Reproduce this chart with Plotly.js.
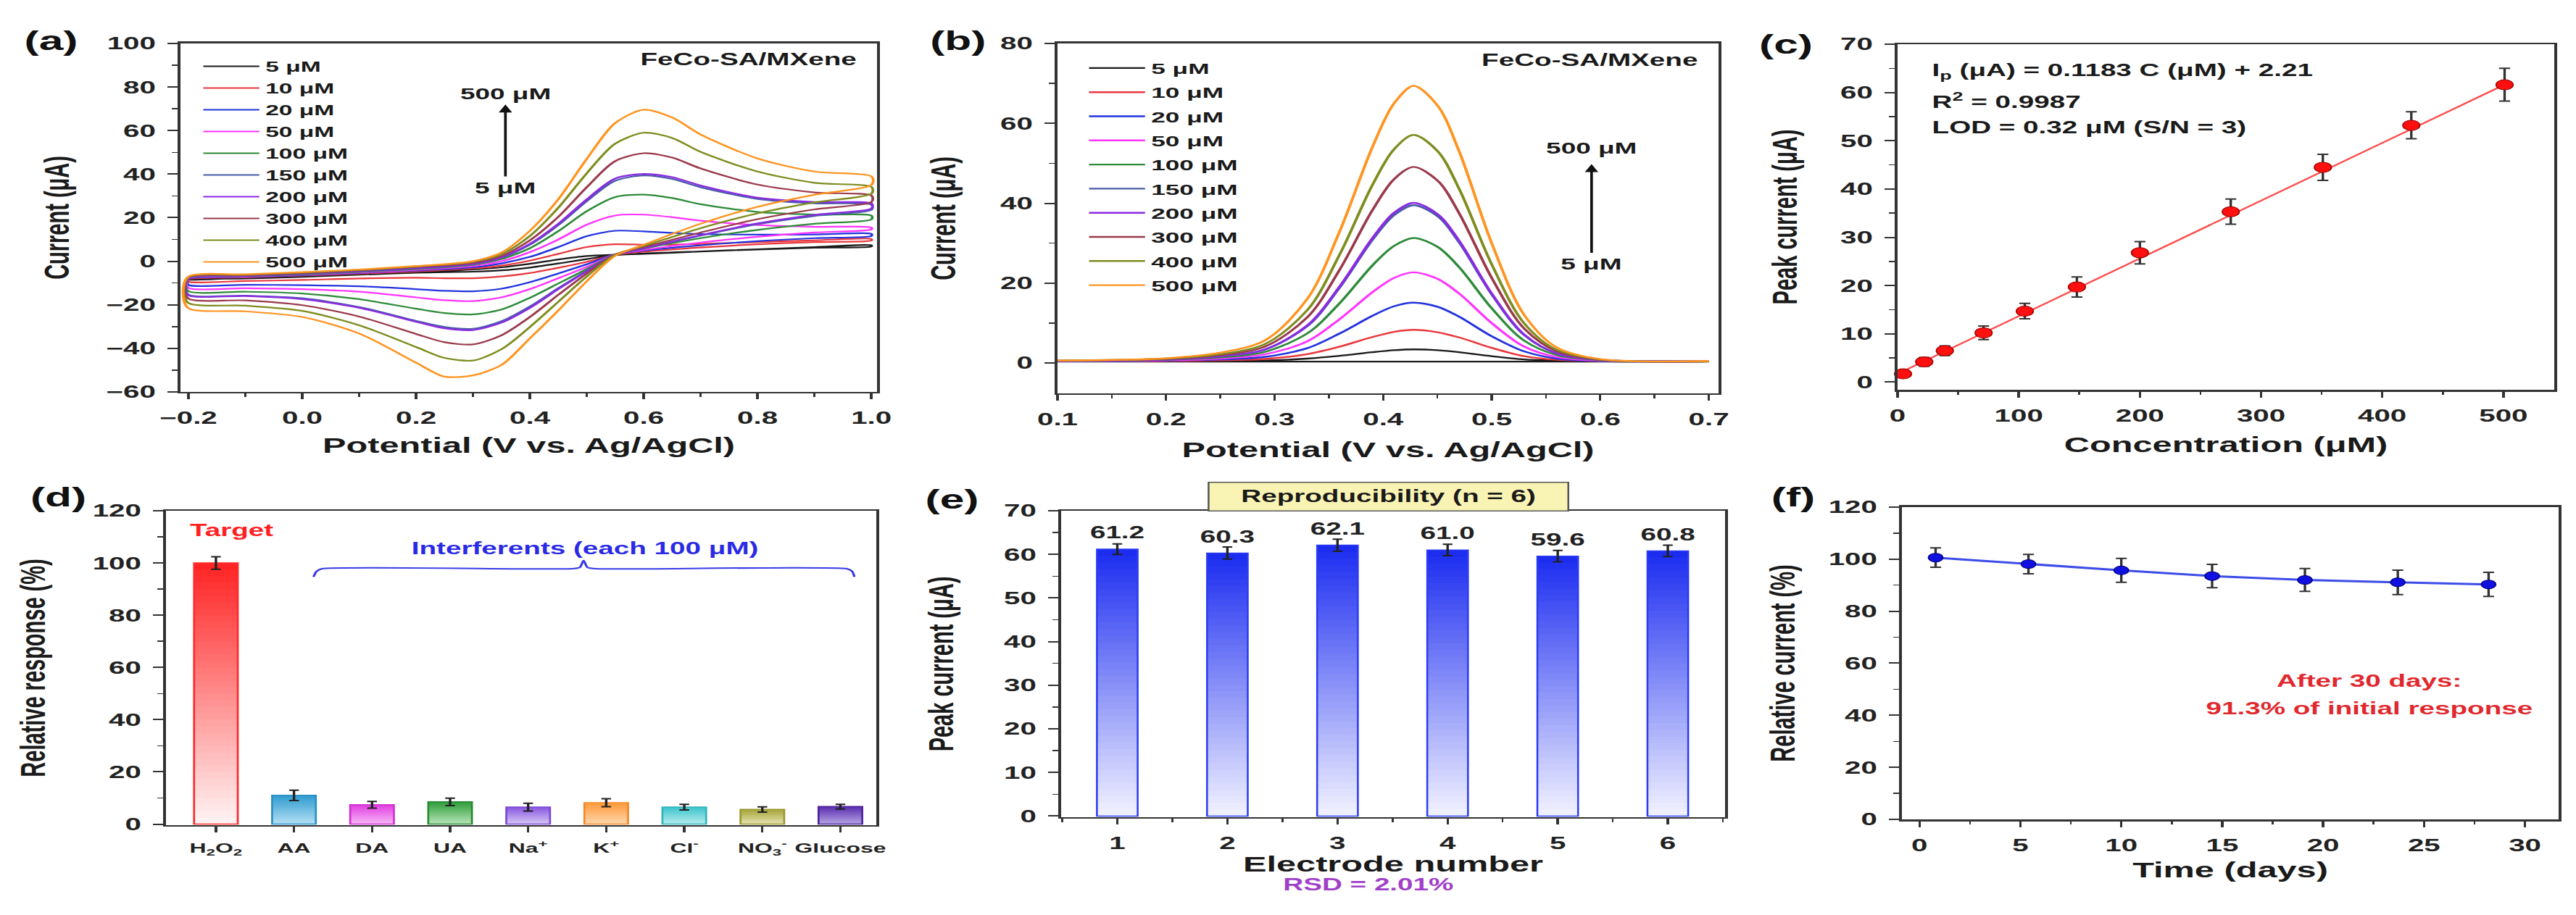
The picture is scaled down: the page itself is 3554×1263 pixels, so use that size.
<!DOCTYPE html>
<html><head><meta charset="utf-8">
<script src="https://cdn.plot.ly/plotly-3.0.1.min.js"></script>
<style>
html,body{margin:0;padding:0;background:#fff;overflow:hidden;}
#plot{width:2116px;height:1263px;transform:scaleX(1.6796);transform-origin:0 0;}
</style></head><body><div id="plot"></div>
<script>
const FONT = '"Liberation Sans", Arial, Helvetica, sans-serif';
const INK = '#1a1a1a';

// ---------------- (a) cyclic voltammograms ----------------
const cvPotentialFwd = [-0.2,-0.1,0.0,0.1,0.2,0.3,0.35,0.4,0.45,0.5,0.55,0.6,0.65,0.7,0.8,0.9,1.0];
const cvPotentialRev = [1.0,0.9,0.8,0.7,0.6,0.55,0.5,0.45,0.4,0.35,0.3,0.25,0.2,0.1,0.0,-0.1,-0.2];
const cvFwd5   = [-8.5,-7.6,-6.8,-6.0,-5.0,-3.8,-2.8,-1.2,0.8,2.4,3.0,3.4,3.9,4.5,5.5,6.5,7.3];
const cvRev5   = [6.8,6.2,5.4,4.5,3.6,2.8,1.0,-1.0,-2.9,-4.2,-4.8,-5.0,-5.3,-6.2,-7.2,-7.9,-8.4];
const cvFwd10  = [-8.3,-7.4,-6.6,-5.7,-4.7,-3.3,-2.0,0.3,3.4,6.5,7.8,7.6,7.6,8.0,8.8,9.6,10.2];
const cvRev10  = [9.5,8.8,7.8,6.3,4.4,3.0,-0.3,-3.0,-5.4,-7.0,-7.8,-7.8,-7.6,-7.9,-8.6,-9.1,-9.4];
const cvFwd20  = [-8.1,-7.2,-6.4,-5.4,-4.3,-2.8,-1.0,2.0,6.5,11.5,14.0,13.7,13.0,12.5,12.2,12.3,12.6];
const cvRev20  = [11.6,10.6,9.2,7.3,4.9,3.2,-1.4,-5.6,-9.6,-12.6,-13.8,-13.6,-12.8,-11.5,-11.0,-10.8,-10.9];
const cvFwd50  = [-8.0,-7.0,-6.2,-5.2,-4.0,-2.2,0.0,4.2,10.0,16.8,21.0,21.4,20.2,18.6,16.6,15.8,15.5];
const cvRev50  = [14.6,13.2,11.2,8.6,5.2,3.1,-2.6,-7.8,-12.8,-16.6,-18.3,-17.9,-16.6,-14.0,-12.8,-12.4,-12.3];
const cvFwd100 = [-7.8,-6.8,-6.0,-4.9,-3.6,-1.6,1.0,6.0,13.8,23.0,29.5,30.6,29.0,26.2,22.6,21.4,21.0];
const cvRev100 = [19.2,17.2,14.4,10.6,5.8,3.0,-3.6,-10.2,-16.8,-22.2,-24.4,-23.8,-21.8,-17.4,-14.8,-14.0,-13.8];
const cvFwd150 = [-7.7,-6.7,-5.8,-4.7,-3.3,-1.3,1.6,7.6,16.6,27.6,37.0,39.4,37.8,34.0,28.6,26.6,26.0];
const cvRev150 = [23.6,20.8,17.0,11.8,5.9,3.0,-4.4,-12.4,-20.8,-27.6,-31.0,-30.2,-27.4,-21.0,-17.0,-15.8,-15.4];
const cvFwd200 = [-7.6,-6.6,-5.6,-4.5,-3.1,-1.1,1.8,8.0,17.2,28.4,38.0,40.1,38.6,34.8,29.2,27.2,26.6];
const cvRev200 = [24.2,21.3,17.4,12.0,6.0,3.0,-4.6,-12.8,-21.4,-28.2,-31.6,-30.8,-27.8,-21.4,-17.4,-16.0,-15.6];
const cvFwd300 = [-7.4,-6.4,-5.4,-4.2,-2.7,-0.7,2.4,9.6,20.4,34.0,46.0,49.6,47.6,42.6,35.2,31.6,30.2];
const cvRev300 = [27.2,23.8,19.3,13.2,6.5,3.1,-5.6,-15.4,-25.6,-34.0,-38.2,-37.2,-33.4,-25.4,-20.2,-18.0,-17.2];
const cvFwd400 = [-7.2,-6.2,-5.2,-4.0,-2.4,-0.3,3.2,11.6,24.6,40.4,54.0,59.0,56.6,50.2,41.2,36.0,34.2];
const cvRev400 = [31.0,27.0,22.0,15.2,7.0,3.0,-7.0,-18.6,-30.2,-40.4,-45.6,-44.4,-39.4,-29.4,-22.8,-20.4,-19.2];
const cvFwd500 = [-7.0,-6.0,-5.0,-3.8,-2.2,0.0,4.0,14.0,28.5,47.0,63.5,69.6,66.0,58.2,47.2,41.2,39.0];
const cvRev500 = [35.0,30.5,25.0,17.2,7.6,2.5,-9.2,-22.6,-35.4,-47.6,-52.4,-53.0,-46.6,-33.2,-25.6,-23.0,-21.6];
const concLabels = ['5 μM','10 μM','20 μM','50 μM','100 μM','150 μM','200 μM','300 μM','400 μM','500 μM'];

// ---------------- (b) DPV ----------------
const dpvPotential = [0.1,0.2,0.25,0.29,0.33,0.36,0.39,0.41,0.428,0.45,0.47,0.5,0.53,0.56,0.6,0.7];
const dpv5   = [0.4,0.4,0.5,0.6,1.1,1.8,2.7,3.2,3.4,3.2,2.7,1.7,0.9,0.6,0.4,0.4];
const dpv10  = [0.4,0.5,0.7,1.0,2.2,4.1,6.5,7.8,8.3,7.7,6.4,3.8,1.7,0.8,0.5,0.4];
const dpv20  = [0.4,0.6,0.9,1.5,3.7,7.4,11.8,14.2,15.1,14.1,11.6,6.7,2.9,1.1,0.5,0.4];
const dpv50  = [0.5,0.7,1.1,2.1,5.4,11.0,17.7,21.3,22.7,21.1,17.4,10.0,4.1,1.5,0.6,0.4];
const dpv100 = [0.5,0.8,1.4,2.7,7.4,15.0,24.4,29.3,31.3,29.1,24.0,13.7,5.6,2.0,0.7,0.4];
const dpv150 = [0.5,0.9,1.7,3.3,9.2,18.9,30.8,37.0,39.5,36.8,30.2,17.2,7.0,2.4,0.8,0.4];
const dpv200 = [0.5,0.9,1.7,3.3,9.4,19.2,31.2,37.6,40.1,37.3,30.6,17.4,7.1,2.4,0.8,0.4];
const dpv300 = [0.6,1.0,2.0,4.0,11.4,23.4,38.2,46.0,49.1,45.7,37.5,21.3,8.6,2.9,0.8,0.4];
const dpv400 = [0.6,1.1,2.2,4.6,13.2,27.2,44.5,53.5,57.1,53.1,43.6,24.7,9.9,3.3,0.9,0.4];
const dpv500 = [0.6,1.2,2.6,5.5,16.0,33.0,54.0,65.0,69.4,64.5,53.0,30.0,12.0,3.9,1.0,0.5];
const dpvBlankPotential = [0.1, 0.7];
const dpvBlank = [0.35, 0.35];

// ---------------- (c) calibration ----------------
const calConc = [4.5, 22, 39, 71, 105, 148, 200, 275, 351, 424, 501];
const calPeak = [1.7, 4.2, 6.5, 10.2, 14.7, 19.7, 26.8, 35.3, 44.5, 53.2, 61.6];
const calErr  = [0.6, 0.9, 1.0, 1.4, 1.6, 2.1, 2.3, 2.6, 2.7, 2.8, 3.4];
const fitConc = [0, 505];
const fitPeak = [1.7, 62.1];

// ---------------- (d) selectivity ----------------
const interfNames = ['H<sub>2</sub>O<sub>2</sub>','AA','DA','UA','Na<sup>+</sup>','K<sup>+</sup>','Cl<sup>-</sup>','NO<sub>3</sub><sup>-</sup>','Glucose'];
const interfResp = [100.0, 11.0, 7.4, 8.5, 6.5, 8.2, 6.5, 5.6, 6.7];
const interfErr  = [2.4, 2.0, 1.3, 1.4, 1.5, 1.5, 1.1, 1.0, 0.9];
const braceX = [1.25, 1.29, 1.36, 4.56, 4.66, 4.71, 4.76, 4.87, 8.08, 8.15, 8.18];
const braceY = [94.7, 96.8, 97.8, 97.8, 98.3, 100.9, 98.3, 97.8, 97.8, 96.8, 94.7];

// ---------------- (e) reproducibility ----------------
const electrodes = [1, 2, 3, 4, 5, 6];
const reproPeak = [61.2, 60.3, 62.1, 61.0, 59.6, 60.8];
const reproErr  = [1.2, 1.4, 1.4, 1.3, 1.3, 1.3];

// ---------------- (f) stability ----------------
const stabDays = [0.8, 5.4, 10, 14.5, 19.1, 23.7, 28.2];
const stabResp = [100.6, 98.1, 95.7, 93.5, 92.0, 91.1, 90.3];
const stabErr  = [3.7, 3.7, 4.6, 4.5, 4.4, 4.7, 4.6];

// ---------------- styles ----------------
const curveColors = ['#1a1a1a','#e8383d','#2233dd','#ff33ff','#2e8b3a','#4a5aa8','#8a2be2','#9a3a4c','#7f8c1f','#ff9420'];
const dTop    = ['#ff2222','#2f9bd0','#e23ee2','#2e9e3a','#8857e0','#ff9a3a','#3cc4cc','#a6a43a','#5a2eb0'];
const dBottom = ['#fff4f4','#b4e0f4','#f6b8f6','#b8e4b8','#d6c8f6','#ffd6ad','#b6ecee','#e6e4b0','#b6a4e2'];
const dLine   = ['#ff2a2a','#2a8fc4','#d030d0','#2a8a34','#7a48d8','#f08a2a','#30b4bc','#9a9830','#4e24a0'];
const eTop = '#1a2af0', eBottom = '#f2f3ff', eLine = '#2b3cf2';
const K = 40;

function hex2rgb(h){h=h.replace('#','');return [0,2,4].map(i=>parseInt(h.substr(i,2),16));}
function mix(a,b,t){const A=hex2rgb(a),B=hex2rgb(b);return 'rgb('+A.map((v,i)=>Math.round(v+(B[i]-v)*t)).join(',')+')';}

const cvFwd = [cvFwd5,cvFwd10,cvFwd20,cvFwd50,cvFwd100,cvFwd150,cvFwd200,cvFwd300,cvFwd400,cvFwd500];
const cvRev = [cvRev5,cvRev10,cvRev20,cvRev50,cvRev100,cvRev150,cvRev200,cvRev300,cvRev400,cvRev500];
const dpvAll = [dpv5,dpv10,dpv20,dpv50,dpv100,dpv150,dpv200,dpv300,dpv400,dpv500];

const traces = [];
// (a)
cvFwd.forEach((fw, i) => {
  traces.push({type:'scatter', mode:'lines', xaxis:'x', yaxis:'y',
    x: cvPotentialFwd.concat(cvPotentialRev, [cvPotentialFwd[0]]),
    y: fw.concat(cvRev[i], [fw[0]]),
    line:{color:curveColors[i], width:2.2, shape:'spline', smoothing:0.8},
    name: concLabels[i], legend:'legend', legendgroup:'a'+i});
});
// (b)
traces.push({type:'scatter', mode:'lines', xaxis:'x2', yaxis:'y2', x:dpvBlankPotential, y:dpvBlank,
  line:{color:'#1a1a1a', width:2.2}, showlegend:false, hoverinfo:'skip'});
dpvAll.forEach((d, i) => {
  traces.push({type:'scatter', mode:'lines', xaxis:'x2', yaxis:'y2', x:dpvPotential, y:d,
    line:{color:curveColors[i], width:2.4, shape:'spline', smoothing:0.9},
    name: concLabels[i], legend:'legend2', legendgroup:'b'+i});
});
// (c)
traces.push({type:'scatter', mode:'lines', xaxis:'x3', yaxis:'y3', x:fitConc, y:fitPeak,
  line:{color:'#ff4a4a', width:2}, showlegend:false});
traces.push({type:'scatter', mode:'markers', xaxis:'x3', yaxis:'y3', x:calConc, y:calPeak, cliponaxis:false,
  marker:{color:'#ff1010', size:14, line:{color:'#a00000', width:1}},
  error_y:{type:'data', array:calErr, color:'#333', thickness:2, width:4.5}, showlegend:false});
// (d) gradient bars
const interfIdx = interfNames.map((_, i) => i);
for (let k = 0; k < K; k++) {
  const f = k / K, t = (k + 0.5) / K;
  traces.push({type:'bar', xaxis:'x4', yaxis:'y4', x:interfIdx,
    base: interfResp.map(v => v * f), y: interfResp.map(v => v * (1 - f)), width:0.56,
    marker:{color: interfResp.map((_, i) => mix(dBottom[i], dTop[i], t)), line:{width:0}},
    showlegend:false, hoverinfo:'skip'});
}
traces.push({type:'bar', xaxis:'x4', yaxis:'y4', x:interfIdx, y:interfResp, width:0.56,
  marker:{color:'rgba(0,0,0,0)', line:{color:dLine, width:1.6}},
  error_y:{type:'data', array:interfErr, color:'#222', thickness:2, width:4}, showlegend:false});
traces.push({type:'scatter', mode:'lines', xaxis:'x4', yaxis:'y4', x:braceX, y:braceY,
  line:{color:'#3a3ae6', width:2, shape:'spline', smoothing:0.6}, showlegend:false, hoverinfo:'skip'});
// (e) gradient bars
for (let k = 0; k < K; k++) {
  const f = k / K, t = (k + 0.5) / K;
  traces.push({type:'bar', xaxis:'x5', yaxis:'y5', x:electrodes,
    base: reproPeak.map(v => v * f), y: reproPeak.map(v => v * (1 - f)), width:0.37,
    marker:{color: mix(eBottom, eTop, t), line:{width:0}}, showlegend:false, hoverinfo:'skip'});
}
traces.push({type:'bar', xaxis:'x5', yaxis:'y5', x:electrodes, y:reproPeak, width:0.37,
  marker:{color:'rgba(0,0,0,0)', line:{color:eLine, width:1.5}},
  error_y:{type:'data', array:reproErr, color:'#222', thickness:2, width:4}, showlegend:false});
traces.push({type:'scatter', mode:'text', xaxis:'x5', yaxis:'y5', x:electrodes,
  y: reproPeak.map(v => v + 3.4), text: reproPeak.map(v => v.toFixed(1)),
  textfont:{size:23, color:'#222', family:FONT, weight:'bold'}, cliponaxis:false, showlegend:false});
// (f)
traces.push({type:'scatter', mode:'lines+markers', xaxis:'x6', yaxis:'y6', x:stabDays, y:stabResp,
  line:{color:'#3c4ce8', width:3},
  marker:{color:'#1010e0', size:12, line:{color:'#000080', width:1}},
  error_y:{type:'data', array:stabErr, color:'#333', thickness:2, width:4.5}, showlegend:false});

function ax(o) {
  const base = {
    showline:true, mirror:true, linecolor:'#333', linewidth:2.5,
    ticks:'outside', ticklen:8, tickwidth:2, tickcolor:'#333', ticklabelstandoff:5,
    showgrid:false, zeroline:false, fixedrange:true,
    tickfont:{size:24, family:FONT, weight:'bold', color:'#222'},
  };
  const r = Object.assign(base, o);
  if (o.minorDtick) {
    r.minor = {dtick:o.minorDtick, ticks:'outside', ticklen:4.5, tickwidth:1.5, tickcolor:'#333', showgrid:false};
    delete r.minorDtick;
  }
  if (o.titleText) {
    r.title = {text:o.titleText, standoff:o.standoff, font:{size:29, family:FONT, weight:'bold', color:'#1a1a1a'}};
    delete r.titleText; delete r.standoff;
  }
  return r;
}

const ann = [];
function label(txt, x, y, xref, yref, opts) {
  ann.push(Object.assign({text:txt, x:x, y:y, xref:xref, yref:yref, showarrow:false,
    xanchor:'center', yanchor:'middle',
    font:{size:23, family:FONT, weight:'bold', color:INK}}, opts || {}));
}
// panel letters
[['(a)',0.0197,0.9549],['(b)',0.372,0.9549],['(c)',0.6933,0.951],['(d)',0.0225,0.4568],['(e)',0.3694,0.4537],['(f)',0.6961,0.4568]]
  .forEach(p => label(p[0], p[1], p[2], 'paper', 'paper', {font:{size:36, family:FONT, weight:'bold', color:'#111'}}));
// (a)
label('FeCo-SA/MXene', 0.98, 92.7, 'x', 'y', {xanchor:'right'});
label('500 μM', 0.357, 77, 'x', 'y', {font:{size:22, family:FONT, weight:'bold', color:INK}});
ann.push({text:'5 μM', x:0.357, y:72, ax:0.357, ay:33.6, xref:'x', yref:'y', axref:'x', ayref:'y', showarrow:true,
  arrowhead:2, arrowsize:1, arrowwidth:2.2, arrowcolor:'#111', standoff:0, startstandoff:2,
  font:{size:22, family:FONT, weight:'bold', color:INK}});
// (b)
label('FeCo-SA/MXene', 0.693, 75.8, 'x2', 'y2', {xanchor:'right'});
label('500 μM', 0.592, 53.8, 'x2', 'y2', {font:{size:22, family:FONT, weight:'bold', color:INK}});
ann.push({text:'5 μM', x:0.592, y:49.8, ax:0.592, ay:24.7, xref:'x2', yref:'y2', axref:'x2', ayref:'y2', showarrow:true,
  arrowhead:2, arrowsize:1, arrowwidth:2.2, arrowcolor:'#111', standoff:0, startstandoff:2,
  font:{size:22, family:FONT, weight:'bold', color:INK}});
// (c)
label('I<sub>p</sub> (μA) = 0.1183 C (μM) + 2.21', 26.3, 64.4, 'x3', 'y3', {xanchor:'left'});
label('R<sup>2</sup> = 0.9987', 26.3, 58.3, 'x3', 'y3', {xanchor:'left'});
label('LOD = 0.32 μM (S/N = 3)', 26.3, 52.8, 'x3', 'y3', {xanchor:'left'});
// (d)
label('Target', 0.21, 112.4, 'x4', 'y4', {font:{size:23, family:FONT, weight:'bold', color:'#ff2020'}});
label('Interferents (each 100 μM)', 4.72, 105.7, 'x4', 'y4', {font:{size:23, family:FONT, weight:'bold', color:'#2a2ae6'}});
// (e)
label('Reproducibility (n = 6)', 0.539, 0.4576, 'paper', 'paper',
  {bgcolor:'#faf4b4', bordercolor:'#555', borderwidth:1.5, borderpad:4, width:286, height:30});
label('RSD = 2.01%', 0.531, 0.0333, 'paper', 'paper', {font:{size:23, family:FONT, weight:'bold', color:'#a040c8'}});
// (f)
label('After 30 days:', 22.3, 53.1, 'x6', 'y6', {font:{size:23, family:FONT, weight:'bold', color:'#e0282e'}});
label('91.3% of initial response', 22.3, 42.5, 'x6', 'y6', {font:{size:23, family:FONT, weight:'bold', color:'#e0282e'}});

const legendBase = {xanchor:'left', yanchor:'top', bgcolor:'rgba(0,0,0,0)', borderwidth:0, itemwidth:46};

const layout = {
  width:2116, height:1263, margin:{l:0, r:0, t:0, b:0},
  paper_bgcolor:'#ffffff', plot_bgcolor:'#ffffff',
  font:{family:FONT, size:22, color:INK, weight:'bold'},
  barmode:'overlay', hovermode:false, showlegend:true,
  legend: Object.assign({}, legendBase, {x:0.07656, y:0.943, tracegroupgap:1, font:{family:FONT, weight:'bold', color:INK, size:20}}),
  legend2: Object.assign({}, legendBase, {x:0.4204, y:0.9416, tracegroupgap:3, font:{family:FONT, weight:'bold', color:INK, size:21}}),
  xaxis: ax({domain:[0.07006,0.34046], anchor:'y', range:[-0.214,1.01], tick0:0, dtick:0.2, tickformat:'.1f', minorDtick:0.1,
    titleText:'Potential (V vs. Ag/AgCl)', standoff:16}),
  yaxis: ax({domain:[0.5717,0.9525], anchor:'x', range:[-60,100], dtick:20, minorDtick:10, titleText:'Current (μA)', standoff:22}),
  xaxis2: ax({domain:[0.41052,0.66714], anchor:'y2', range:[0.1,0.709], tick0:0, dtick:0.1, tickformat:'.1f', minorDtick:0.05,
    titleText:'Potential (V vs. Ag/AgCl)', standoff:20}),
  yaxis2: ax({domain:[0.5701,0.9525], anchor:'x2', range:[-7.6,80], dtick:20, minorDtick:10, titleText:'Current (μA)', standoff:28}),
  xaxis3: ax({domain:[0.73663,0.99156], anchor:'y3', range:[0,542], dtick:100, minorDtick:50, titleText:'Concentration (μM)', standoff:18}),
  yaxis3: ax({domain:[0.574,0.9517], anchor:'x3', range:[-1.6,70], dtick:10, minorDtick:5, titleText:'Peak current (μA)', standoff:27}),
  xaxis4: ax({domain:[0.06443,0.34018], anchor:'y4', range:[-0.64,8.46], tickmode:'array', tickvals:interfIdx, ticktext:interfNames,
    tickangle:0, tickfont:{size:19, family:FONT, weight:'bold', color:'#222'}}),
  yaxis4: ax({domain:[0.0982,0.4418], anchor:'x4', range:[-0.4,120], dtick:20, minorDtick:10, titleText:'Relative response (%)', standoff:30}),
  xaxis5: ax({domain:[0.41193,0.66967], anchor:'y5', range:[0.49,6.52], tick0:0, dtick:1, minorDtick:0.5, titleText:'Electrode number', standoff:3}),
  yaxis5: ax({domain:[0.1069,0.4418], anchor:'x5', range:[-0.25,70], dtick:10, minorDtick:5, titleText:'Peak current (μA)', standoff:33}),
  xaxis6: ax({domain:[0.73832,0.99325], anchor:'y6', range:[-0.87,31.67], tick0:0, dtick:5, minorDtick:2.5, titleText:'Time (days)', standoff:12}),
  yaxis6: ax({domain:[0.1045,0.4458], anchor:'x6', range:[0,120], dtick:20, minorDtick:10, titleText:'Relative current (%)', standoff:19}),
  annotations: ann
};

Plotly.newPlot('plot', traces, layout, {displayModeBar:false, staticPlot:true});
</script></body></html>
